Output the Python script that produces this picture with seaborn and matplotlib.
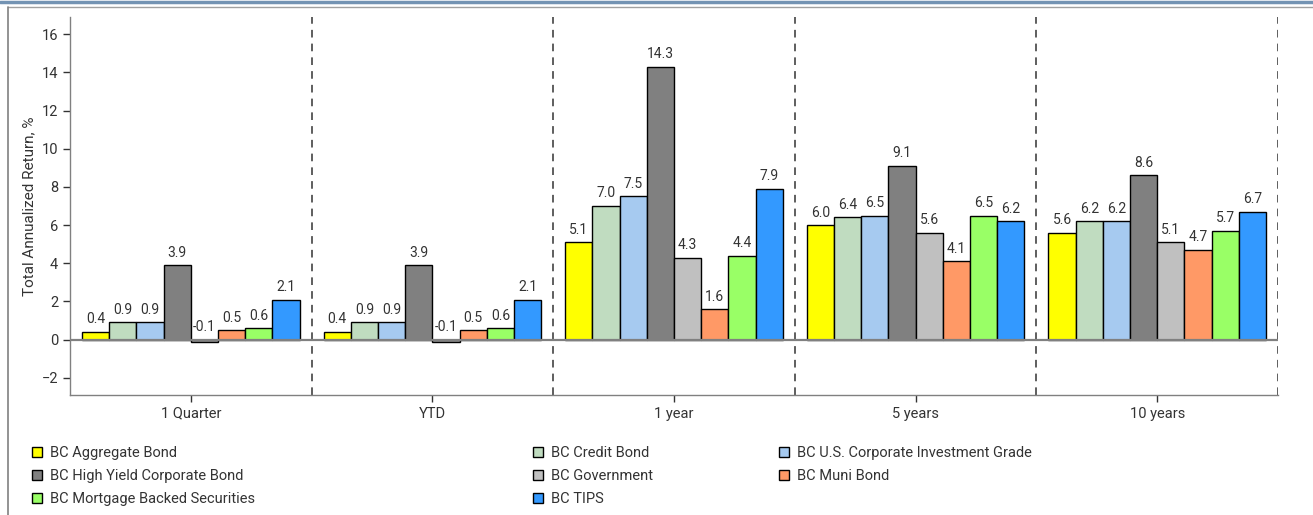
import matplotlib
matplotlib.use("Agg")
import matplotlib.pyplot as plt
from matplotlib.lines import Line2D
from matplotlib.patches import Patch
import pandas as pd
import seaborn as sns

periods = ["1 Quarter", "YTD", "1 year", "5 years", "10 years"]
indices = [
    "BC Aggregate Bond",
    "BC Credit Bond",
    "BC U.S. Corporate Investment Grade",
    "BC High Yield Corporate Bond",
    "BC Government",
    "BC Muni Bond",
    "BC Mortgage Backed Securities",
    "BC TIPS",
]
aggregate = [0.4, 0.4, 5.1, 6.0, 5.6]
credit = [0.9, 0.9, 7.0, 6.4, 6.2]
corporate_ig = [0.9, 0.9, 7.5, 6.5, 6.2]
high_yield = [3.9, 3.9, 14.3, 9.1, 8.6]
government = [-0.1, -0.1, 4.3, 5.6, 5.1]
muni = [0.5, 0.5, 1.6, 4.1, 4.7]
mbs = [0.6, 0.6, 4.4, 6.5, 5.7]
tips = [2.1, 2.1, 7.9, 6.2, 6.7]
series = [aggregate, credit, corporate_ig, high_yield, government, muni, mbs, tips]
colors = ["#FFFF00", "#C0DCC0", "#A6CAF0", "#808080", "#C0C0C0", "#FF9966", "#99FF66", "#3399FF"]

rows = []
for name, vals in zip(indices, series):
    for p, v in zip(periods, vals):
        rows.append({"Period": p, "Index": name, "Return": v})
df = pd.DataFrame(rows)

sns.set_style("white")
plt.rcParams["font.family"] = ["Roboto", "DejaVu Sans"]

fig = plt.figure(figsize=(13.13, 5.15), dpi=100)
ax = fig.add_axes([70 / 1313, 1 - 395 / 515, (1278 - 70) / 1313, (395 - 17) / 515])

sns.barplot(data=df, x="Period", y="Return", hue="Index", order=periods,
            hue_order=indices, palette=colors, width=0.9, gap=0,
            edgecolor="black", linewidth=1, saturation=1, legend=False, ax=ax)

# value labels above each bar (negative values labelled just above zero)
for container, vals in zip(ax.containers, series):
    for bar, v in zip(container, vals):
        x = bar.get_x() + bar.get_width() / 2
        ax.annotate(f"{v:.1f}", (x, max(v, 0)), xytext=(0, 4),
                    textcoords="offset points", ha="center", va="bottom",
                    fontsize=10, color="#333333")

ax.set_xlim(-0.5, 4.5)
ax.set_ylim(-2.9, 16.9)
ax.set_yticks(range(-2, 17, 2))
ax.axhline(0, color="#808080", lw=1.6, zorder=3)
for xb in [-0.5, 0.5, 1.5, 2.5, 3.5, 4.5]:
    ax.axvline(xb, color="#333333", lw=1.1, ls=(0, (5, 4)), zorder=0.4)

for side in ["top", "right"]:
    ax.spines[side].set_visible(False)
for side in ["left", "bottom"]:
    ax.spines[side].set_color("#808080")
    ax.spines[side].set_linewidth(1.0)

ax.tick_params(axis="both", direction="out", length=5, width=1, color="#333333",
               labelsize=10.5, labelcolor="#333333", left=True, bottom=True)
ax.set_xlabel("")
ax.set_ylabel("Total Annualized Return, %", fontsize=11, color="#333333", labelpad=4)

# legend below the plot, filled row by row in three columns
col_x = [32, 533, 779]
for c, x0 in enumerate(col_x):
    names = indices[c::3]
    cols = colors[c::3]
    handles = [Patch(facecolor=col, edgecolor="black", linewidth=1) for col in cols]
    fig.legend(handles, names, loc="upper left",
               bbox_to_anchor=(x0 / 1313, 1 - 446 / 515), ncol=1, frameon=False,
               fontsize=10.5, handlelength=0.7, handleheight=0.7,
               handletextpad=0.55, labelspacing=0.62, borderpad=0,
               borderaxespad=0, labelcolor="#333333")

# page frame lines
fig.add_artist(Line2D([0, 1], [1 - 2 / 515, 1 - 2 / 515], color="#7393B3", lw=2.5,
                      transform=fig.transFigure))
fig.add_artist(Line2D([8 / 1313, 1], [1 - 7 / 515, 1 - 7 / 515], color="#A0A0A0", lw=1,
                      transform=fig.transFigure))
fig.add_artist(Line2D([8 / 1313, 8 / 1313], [0, 1 - 7 / 515], color="#808080", lw=1.2,
                      transform=fig.transFigure))

fig.savefig("out.png", dpi=100)
